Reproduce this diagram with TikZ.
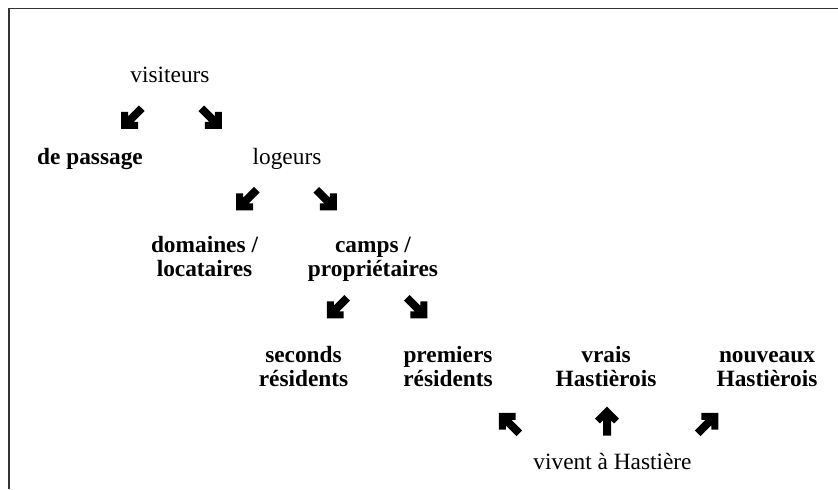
\documentclass[tikz,border=0pt]{standalone}
\usepackage{fontspec}
\setmainfont{Liberation Serif}
\usepackage{tikz}

\begin{document}
\begin{tikzpicture}[
  word/.style={align=center, inner sep=0pt, font=\fontsize{16.6}{17.2}\selectfont},
  bword/.style={word, font=\fontsize{16.6}{17.2}\selectfont\bfseries},
  frame/.style={draw=black!80, line width=1pt},
  fatarrow/.pic={
    \fill[black] (0,0.3625) -- (0.3,0.0625) -- (0.1763,-0.0613) -- (0.1,0.015)
      -- (0.1,-0.3625) -- (-0.1,-0.3625) -- (-0.1,0.015)
      -- (-0.1763,-0.0613) -- (-0.3,0.0625) -- cycle;
  },
]
  \useasboundingbox (0,0) rectangle (20.95,-12.225);

  % ---- Frame ----
  \draw[frame] (0.225,-12.225) -- (0.225,-0.2125) -- (20.95,-0.2125);

  % ---- Words ----
  \node[word] (vis) at (4.25,-1.875) {visiteurs};
  \node[bword] (pass) at (2.25,-3.975) {de passage};
  \node[word] (log) at (7.175,-3.975) {logeurs};

  \node[bword] (dom) at (5.1125,-6.4825) {domaines /\strut\\locataires\strut};
  \node[bword] (camp) at (9.325,-6.4825) {camps /\strut\\propriétaires\strut};

  \node[bword] (sec) at (7.5875,-9.2325) {seconds\strut\\résidents\strut};
  \node[bword] (prem) at (11.2,-9.2325) {premiers\strut\\résidents\strut};
  \node[bword] (vrai) at (15.15,-9.2325) {vrais\strut\\Hastièrois\strut};
  \node[bword] (nouv) at (19.175,-9.2325) {nouveaux\strut\\Hastièrois\strut};

  \node[word] (viv) at (15.3125,-11.525) {vivent à Hastière};

  % ---- Arrows ----
  \pic[rotate=135] at (3.2875,-2.9625) {fatarrow};
  \pic[rotate=-135] at (5.2875,-2.9625) {fatarrow};
  \pic[rotate=135] at (6.1625,-5.0) {fatarrow};
  \pic[rotate=-135] at (8.1625,-5.0) {fatarrow};
  \pic[rotate=135] at (8.425,-7.7) {fatarrow};
  \pic[rotate=-135] at (10.425,-7.7) {fatarrow};
  \pic[rotate=45] at (12.725,-10.575) {fatarrow};
  \pic at (15.175,-10.525) {fatarrow};
  \pic[rotate=-45] at (17.7,-10.575) {fatarrow};
\end{tikzpicture}
\end{document}
